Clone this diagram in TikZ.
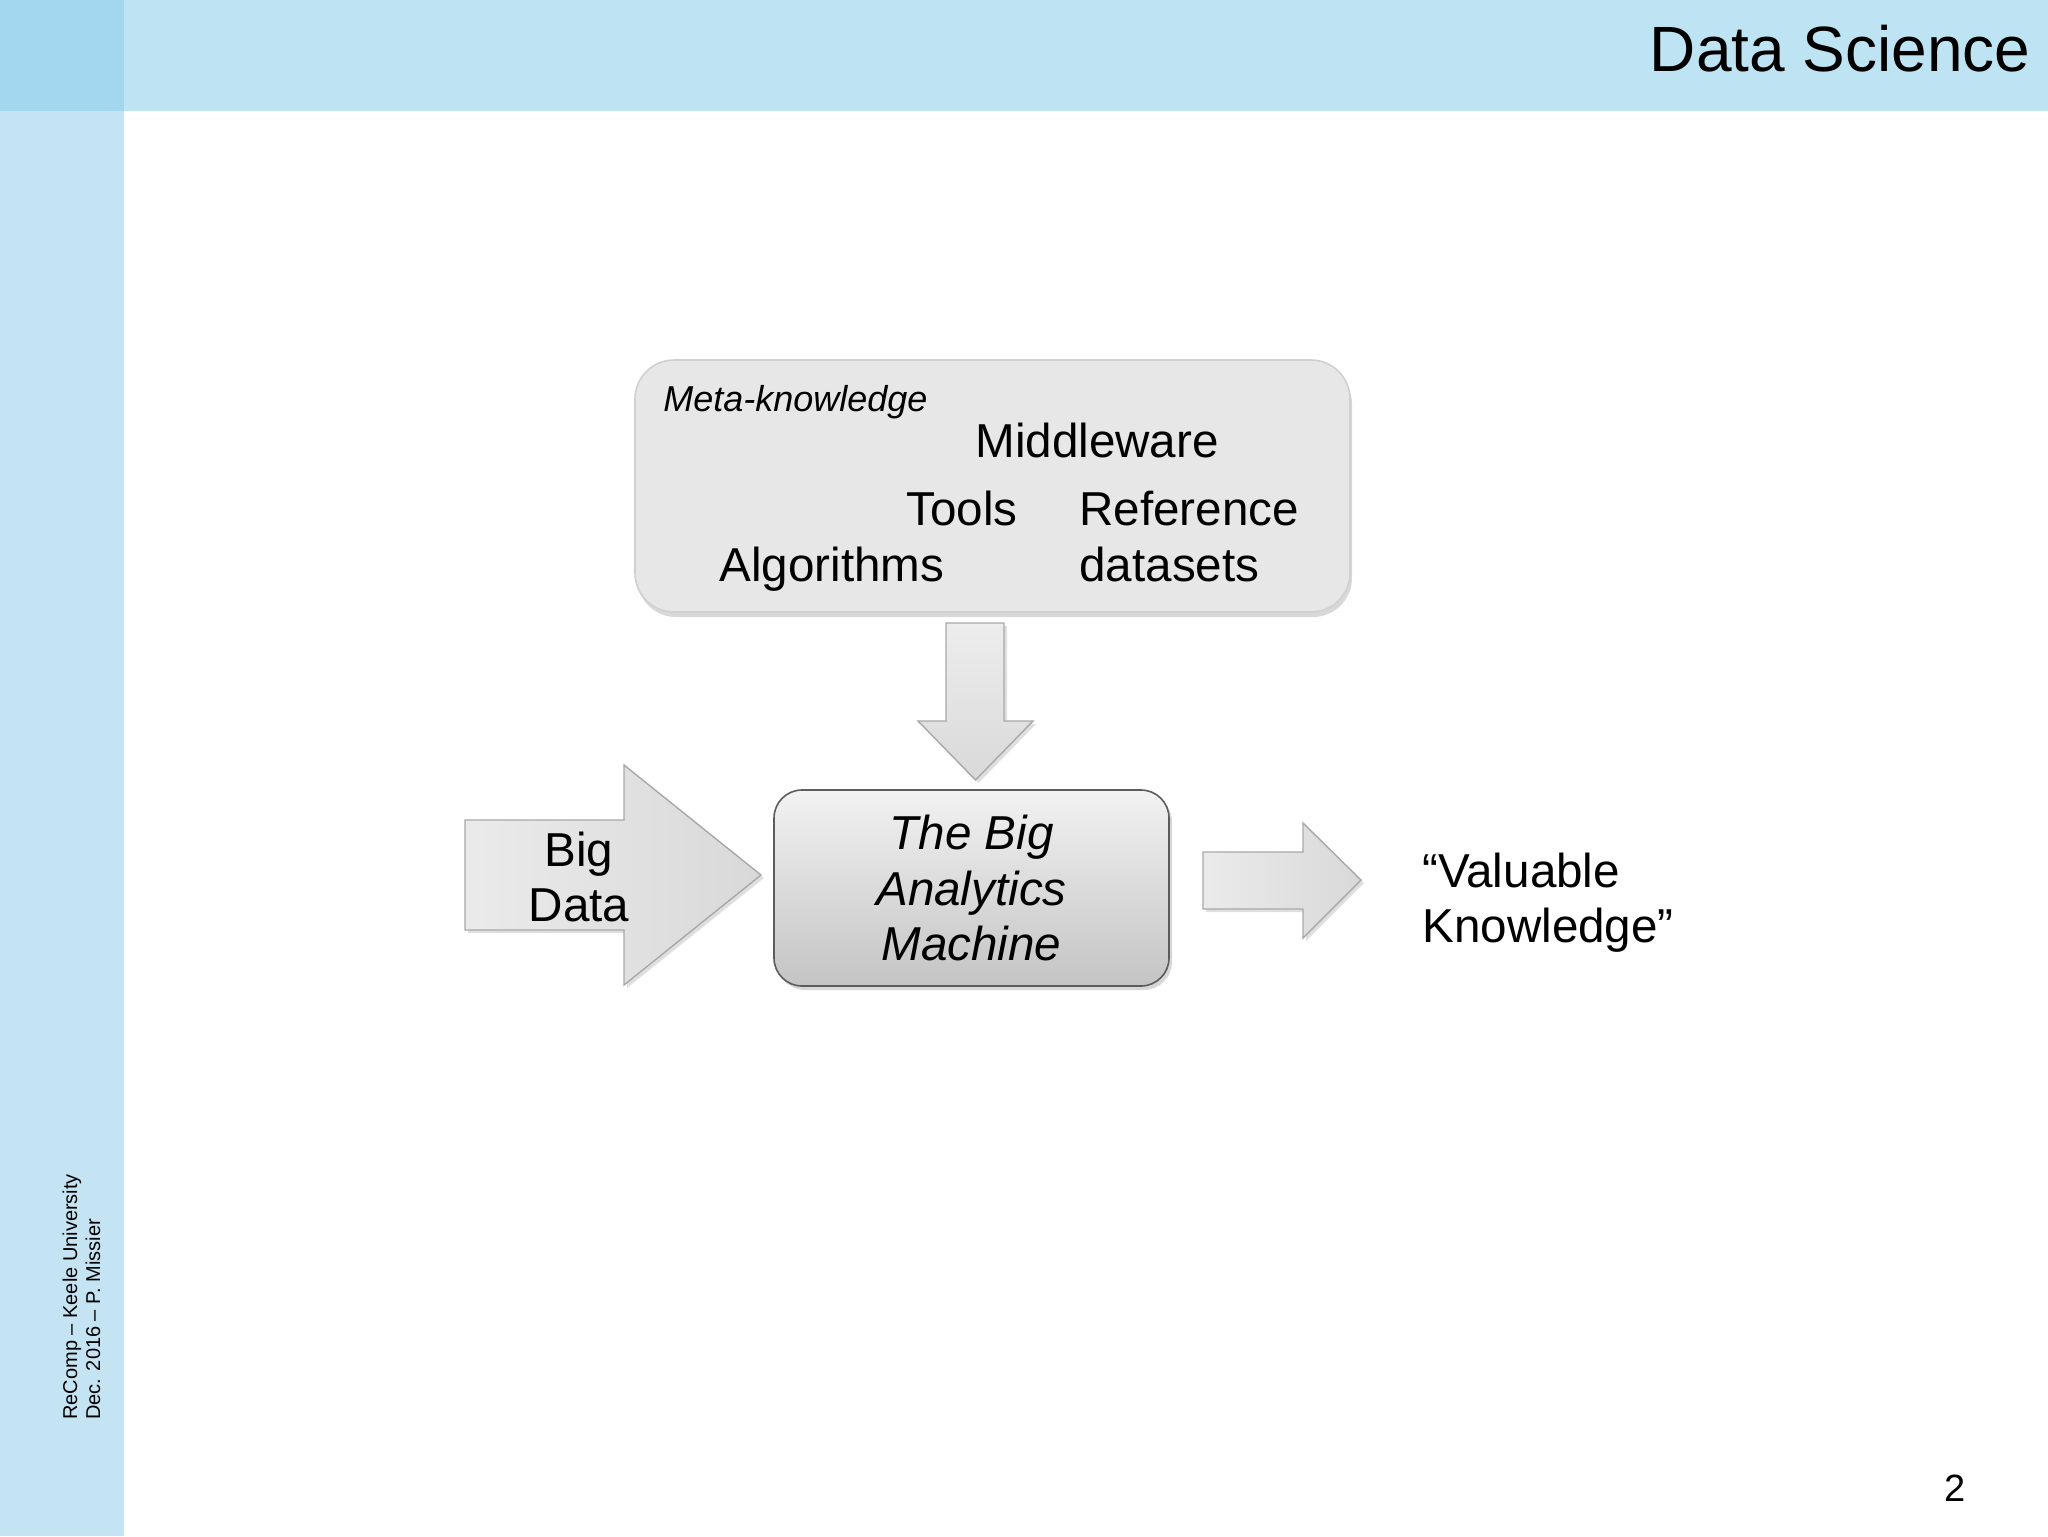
\documentclass[tikz,border=0pt]{standalone}
\usepackage{fontspec}
\setmainfont{Liberation Sans}
\usetikzlibrary{shadows}
\definecolor{banner}{HTML}{BEE3F3}
\definecolor{corner}{HTML}{A3D6EF}
\definecolor{side}{HTML}{C4E3F3}
\definecolor{metafill}{HTML}{E7E7E7}
\definecolor{metaline}{HTML}{D0D0D0}
\definecolor{boxtop}{HTML}{F2F2F2}
\definecolor{boxbot}{HTML}{C4C4C4}
\definecolor{boxline}{HTML}{5C5C5C}
\definecolor{arrline}{HTML}{A8A8A8}
\tikzset{
  plain/.style={inner sep=0pt, text=black},
  bigtext/.style={plain, font=\fontsize{23.8}{27.5}\selectfont},
  metabox/.style={rounded corners=19.5pt, fill=metafill, draw=metaline, line width=0.8pt,
    drop shadow={opacity=0.3, shadow xshift=1pt, shadow yshift=-2.5pt}},
  machinebox/.style={rounded corners=14pt, top color=boxtop, bottom color=boxbot, draw=boxline, line width=0.8pt,
    drop shadow={opacity=0.3, shadow xshift=1.5pt, shadow yshift=-2pt}},
  blockarrow/.style={left color=white!92!black, right color=white!85!black, draw=arrline, line width=0.7pt,
    drop shadow={opacity=0.25, shadow xshift=1.5pt, shadow yshift=-1.5pt}},
  downarrow/.style={top color=white!93!black, bottom color=white!85!black, draw=arrline, line width=0.7pt,
    drop shadow={opacity=0.25, shadow xshift=1.5pt, shadow yshift=-1.5pt}}
}
\begin{document}
\begin{tikzpicture}[x=0.5pt,y=-0.5pt]
\useasboundingbox (0,0) rectangle (2048,1536);
\fill[white] (0,0) rectangle (2048,1536);
\fill[side] (0,0) rectangle (124,1536);
\fill[banner] (124,0) rectangle (2048,111);
\fill[corner] (0,0) rectangle (124,111);

\node[plain, anchor=base east, font=\fontsize{32}{38}\selectfont] (title) at (2031,72) {Data Science};

% meta-knowledge box
\node[metabox, minimum width=357.5pt, minimum height=126pt] (meta) at (992.5,486) {};
\node[plain, anchor=base west, font=\fontsize{18}{21}\selectfont\itshape] (metak) at (663,411) {Meta-knowledge};
\node[bigtext, anchor=base west] (middleware) at (975,457) {Middleware};
\node[bigtext, anchor=base west] (tools) at (906,525) {Tools};
\node[bigtext, anchor=base west] (reference) at (1079,525) {Reference};
\node[bigtext, anchor=base west] (algorithms) at (719,581) {Algorithms};
\node[bigtext, anchor=base west] (datasets) at (1079,581) {datasets};

% down arrow
\path[downarrow] (946,623) -- (1004,623) -- (1004,721) -- (1033,721) -- (975.5,780) -- (918,721) -- (946,721) -- cycle;

% big data arrow
\path[blockarrow] (465,820) -- (624,820) -- (624,765) -- (761,875) -- (624,985) -- (624,930) -- (465,930) -- cycle;
\node[bigtext, align=center] (bigdata) at (579,877) {Big\\Data};

% machine box
\node[machinebox, minimum width=197.5pt, minimum height=98pt, align=center,
      font=\fontsize{23.8}{27.75}\selectfont\itshape] (machine) at (971.5,888) {The Big\\Analytics\\Machine};

% right arrow
\path[blockarrow] (1203,852) -- (1303,852) -- (1303,823) -- (1361,880) -- (1303,938) -- (1303,909) -- (1203,909) -- cycle;
\node[bigtext, align=left, anchor=west] (valuable) at (1422,903) {“Valuable\\Knowledge”};

% sidebar
\node[plain, rotate=90, anchor=base west, font=\fontsize{10}{12}\selectfont] (foot1) at (77,1420) {ReComp – Keele University};
\node[plain, rotate=90, anchor=base west, font=\fontsize{10}{12}\selectfont] (foot2) at (100,1420) {Dec. 2016 – P. Missier};

\node[plain, anchor=base, font=\fontsize{19}{22}\selectfont] (page) at (1955,1501) {2};
\end{tikzpicture}
\end{document}
